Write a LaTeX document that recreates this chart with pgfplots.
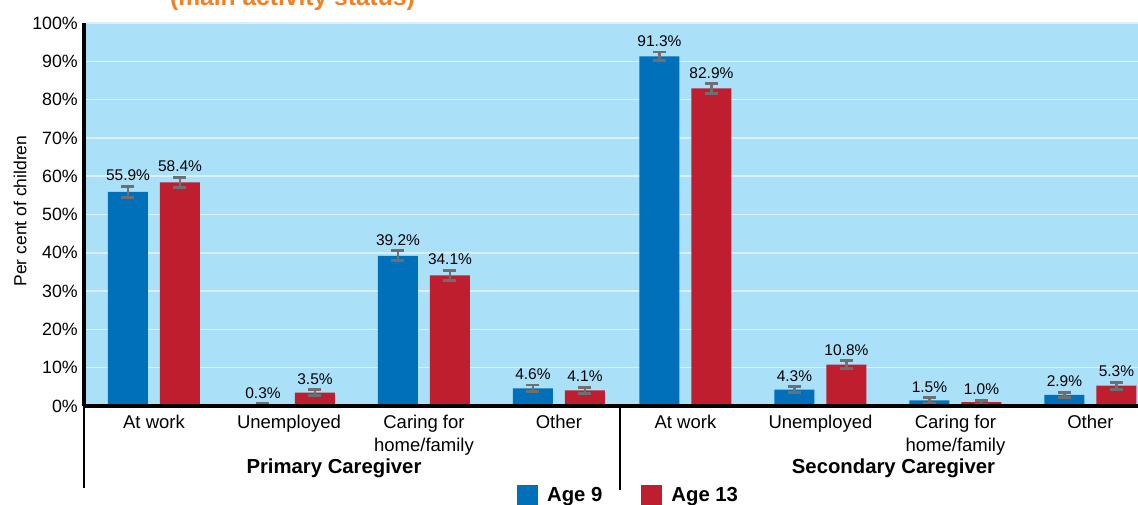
\documentclass[border=0pt]{standalone}
\usepackage{pgfplots}
\pgfplotsset{compat=1.18}
\usepackage{pgfplotstable}
\usepackage{fontspec}
\setmainfont{Liberation Sans}
\definecolor{bgblue}{RGB}{171,224,249}
\definecolor{barblue}{RGB}{0,112,187}
\definecolor{barred}{RGB}{191,30,46}
\definecolor{errgray}{RGB}{110,111,113}
\definecolor{gridc}{RGB}{218,240,252}
\definecolor{titleorange}{RGB}{243,128,37}

\pgfplotstableread{
x y e
0 55.9 1.5
1 0.3 0.3
2 39.2 1.3
3 4.6 0.9
3.937 91.3 1.15
4.937 4.3 0.75
5.937 1.5 0.7
6.937 2.9 0.7
}\agenine
\pgfplotstableread{
x y e
0 58.4 1.35
1 3.5 0.75
2 34.1 1.3
3 4.1 0.75
3.937 82.9 1.3
4.937 10.8 1.0
5.937 1.0 0.5
6.937 5.3 0.9
}\agethirteen

\begin{document}
\begin{tikzpicture}
\useasboundingbox (-84pt,-98pt) rectangle (1054pt,406pt);
\clip (-84pt,-98pt) rectangle (1054pt,406pt);
\begin{axis}[
  scale only axis, width=1054pt, height=383pt,
  xmin=-0.5185, xmax=7.2889, ymin=0, ymax=100,
  axis x line*=bottom, axis y line*=left,
  axis line style={line width=3.5pt, -},
  axis background/.style={fill=bgblue},
  ytick={0,10,...,100},
  yticklabels={0\%,10\%,20\%,30\%,40\%,50\%,60\%,70\%,80\%,90\%,100\%},
  yticklabel style={font=\fontsize{17.8}{21}\selectfont, anchor=east, inner sep=0pt, xshift=-6pt},
  ymajorgrids, grid style={gridc, line width=1.5pt},
  major tick length=0pt,
  xtick={0,1,2,3,3.937,4.937,5.937,6.937},
  xticklabels={At work, Unemployed, {Caring for\\home/family}, Other, At work, Unemployed, {Caring for\\home/family}, Other},
  xticklabel style={align=center, font=\fontsize{18.5}{23}\selectfont, anchor=north, inner sep=0pt, yshift=-9pt},
  ylabel={Per cent of children},
  ylabel style={font=\fontsize{17.5}{21}\selectfont, at={(axis description cs:-0.0607,0.509)}, anchor=center},
  ybar, bar width=40pt,
  nodes near coords={\pgfmathprintnumber[fixed,fixed zerofill,precision=1,assume math mode=true]{\pgfplotspointmeta}\%},
  point meta=y,
  visualization depends on={\thisrow{e}*3.83 \as \errpt},
  nodes near coords style={anchor=base, yshift={\errpt pt+5.5pt}, font=\fontsize{15.5}{18}\selectfont, text=black, inner sep=0pt},
  legend style={draw=none, fill=none, at={(0.4108,-0.2324)}, anchor=west, legend columns=2, inner sep=0pt,
    nodes={inner sep=0pt}, font=\fontsize{20.3}{24}\selectfont\bfseries,
    /tikz/every odd column/.append style={column sep=9pt},
    /tikz/every even column/.append style={column sep=39pt}},
  legend image code/.code={\fill[#1] (0pt,-10.5pt) rectangle (21pt,10.5pt);},
]
\addplot[fill=barblue, draw=none, bar shift=-26pt,
  error bars/.cd, y dir=both, y explicit,
  error bar style={errgray, line width=2.8pt},
  error mark options={errgray, rotate=90, mark size=6.5pt, line width=2.8pt}]
  table[x=x, y=y, y error=e] {\agenine};
\addplot[fill=barred, draw=none, bar shift=26pt,
  error bars/.cd, y dir=both, y explicit,
  error bar style={errgray, line width=2.8pt},
  error mark options={errgray, rotate=90, mark size=6.5pt, line width=2.8pt}]
  table[x=x, y=y, y error=e] {\agethirteen};
\legend{Age 9, Age 13}
\end{axis}
\draw[line width=4pt] (0,0) -- (1054pt,0);
\draw[line width=2pt] (0,0) -- (0,-82pt);
\draw[line width=2pt] (536pt,0) -- (536pt,-84pt);
\node[anchor=base, font=\fontsize{20.3}{24}\selectfont\bfseries] at (250pt,-67pt) {Primary Caregiver};
\node[anchor=base, font=\fontsize{20.3}{24}\selectfont\bfseries] at (809.5pt,-67pt) {Secondary Caregiver};
\node[anchor=base, font=\fontsize{24.6}{28}\selectfont\bfseries, text=titleorange] at (208.5pt,400pt) {(main activity status)};
\end{tikzpicture}
\end{document}
